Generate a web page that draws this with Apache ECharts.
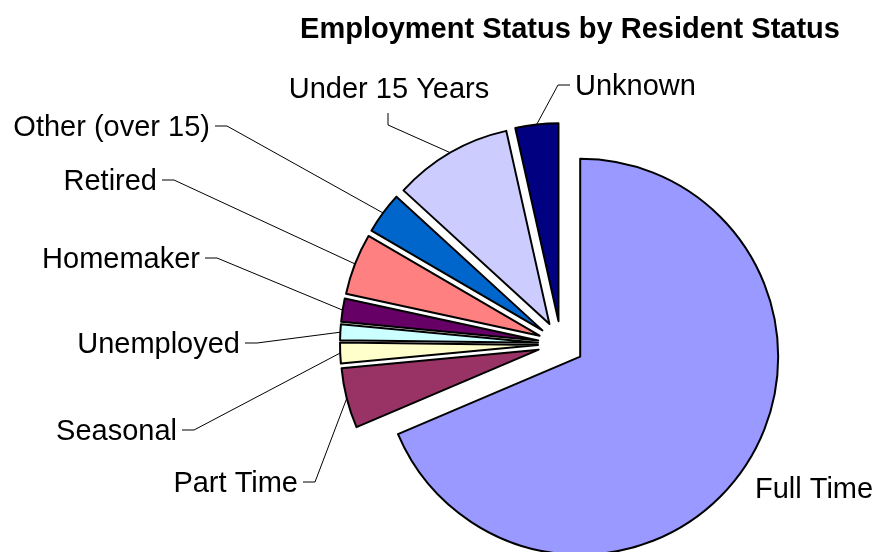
<!DOCTYPE html>
<html>
<head>
<meta charset="utf-8">
<script src="https://cdn.jsdelivr.net/npm/echarts@6/dist/echarts.min.js"></script>
<style>
html,body{margin:0;padding:0;background:#fff;}
#chart{width:877px;height:552px;}
</style>
</head>
<body>
<div id="chart"></div>
<script>
// Data (percent of residents)
const categories = ['Full Time', 'Part Time', 'Seasonal', 'Unemployed', 'Homemaker', 'Retired', 'Other (over 15)', 'Under 15 Years', 'Unknown'];
const values = [68.6, 4.9, 1.7, 1.3, 1.9, 5.0, 3.4, 9.7, 3.5];
const colors = ['#9999FF', '#993366', '#FFFFCC', '#CCFFFF', '#660066', '#FF8080', '#0066CC', '#CCCCFF', '#000080'];

// Label placement (layout only): [anchor x, anchor y, align, elbow]
const labelPlace = [
  [755, 490, 'left', null],
  [298, 484, 'right', 'h'],
  [177, 432, 'right', 'h'],
  [240, 345, 'right', 'h'],
  [200, 260, 'right', 'h'],
  [157, 182, 'right', 'h'],
  [210, 128, 'right', 'h'],
  [389, 90, 'center', 'v'],
  [575, 87, 'left', 'h']
];
const explode = 23;

const total = values.reduce((a, b) => a + b, 0);
const offsets = [];
(function () {
  let cum = 0;
  values.forEach(v => {
    const mid = (cum + v / 2) / total * Math.PI * 2;
    offsets.push([Math.sin(mid) * explode, -Math.cos(mid) * explode]);
    cum += v;
  });
})();

const chart = echarts.init(document.getElementById('chart'), null, {renderer: 'canvas'});

const data = categories.map((c, i) => ({
  name: c,
  value: values[i],
  selected: true,
  itemStyle: {color: colors[i]},
  labelLine: {show: i !== 0}
}));

chart.setOption({
  animation: false,
  backgroundColor: '#ffffff',
  title: {
    text: 'Employment Status by Resident Status',
    left: 565,
    top: 10,
    textAlign: 'center',
    textStyle: {fontFamily: 'Liberation Sans, Arial, sans-serif', fontSize: 29, fontWeight: 'bold', color: '#000'}
  },
  series: [{
    type: 'pie',
    center: [561, 344],
    radius: 198,
    startAngle: 90,
    clockwise: true,
    selectedMode: 'multiple',
    selectedOffset: explode,
    avoidLabelOverlap: false,
    data: data,
    itemStyle: {borderColor: '#000', borderWidth: 2},
    label: {
      show: true,
      position: 'outside',
      formatter: '{b}',
      fontFamily: 'Liberation Sans, Arial, sans-serif',
      fontSize: 29,
      color: '#000'
    },
    labelLine: {show: true, lineStyle: {color: '#000', width: 1}},
    emphasis: {disabled: true},
    labelLayout: function (p) {
      const i = p.dataIndex;
      const lp = labelPlace[i];
      const off = offsets[i];
      const r = p.labelRect;
      let ax;
      if (lp[2] === 'right') ax = r.x + r.width;
      else if (lp[2] === 'left') ax = r.x;
      else ax = r.x + r.width / 2;
      const ay = r.y + r.height / 2;
      // target in local (pre-explode) coordinates
      const tx = lp[0] - off[0];
      const ty = lp[1] - off[1];
      const res = {dx: tx - ax, dy: ty - ay};
      if (p.labelLinePoints && lp[3]) {
        const s = p.labelLinePoints[0];
        if (lp[3] === 'v') {
          res.labelLinePoints = [s, [tx - 1, ty + 35], [tx - 1, ty + 23]];
        } else {
          const dir = lp[2] === 'right' ? 1 : -1;
          const ex = tx + dir * 5;
          res.labelLinePoints = [s, [ex + dir * 12, ty - 2], [ex, ty - 2]];
        }
      }
      return res;
    }
  }]
});
</script>
</body>
</html>
